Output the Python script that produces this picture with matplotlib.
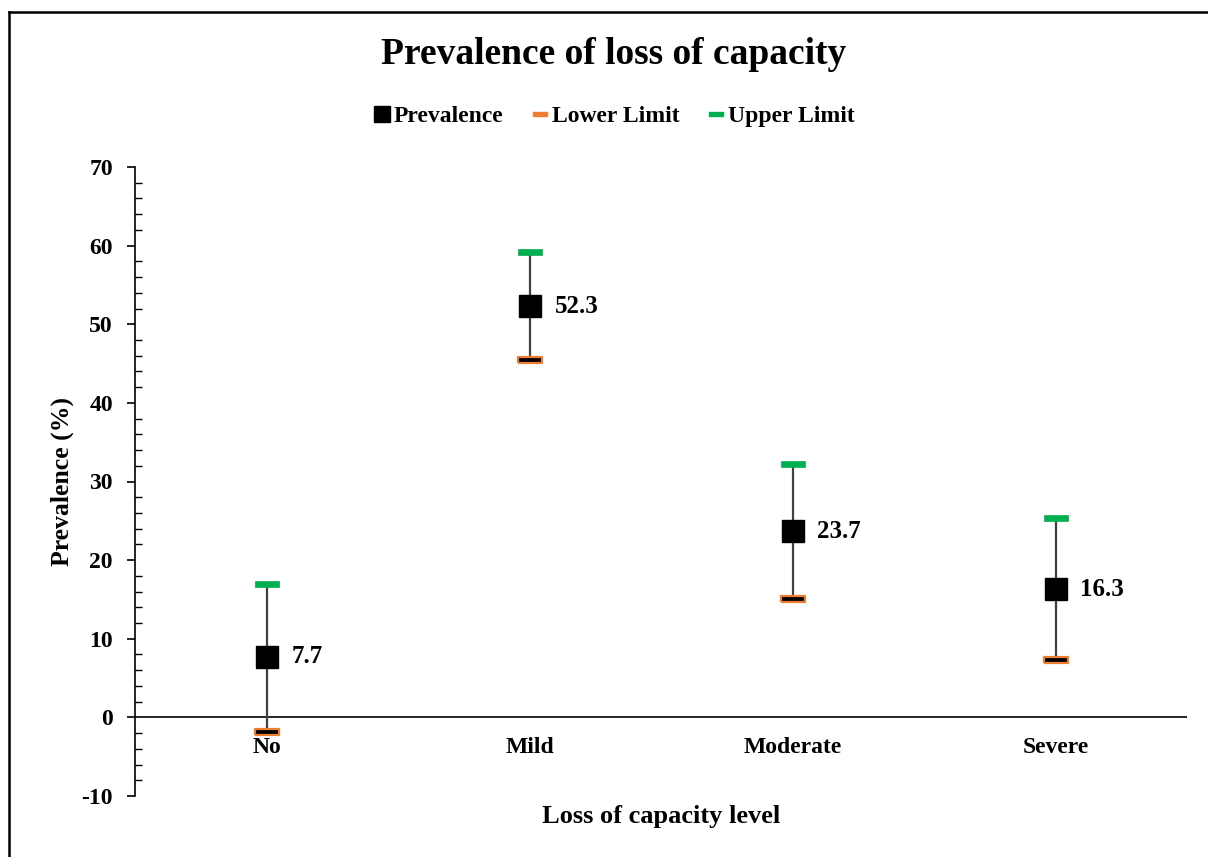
import matplotlib
matplotlib.use("Agg")
import matplotlib.pyplot as plt
from matplotlib.lines import Line2D
from matplotlib.ticker import MultipleLocator

categories = ["No", "Mild", "Moderate", "Severe"]
prevalence = [7.7, 52.3, 23.7, 16.3]
lower_limit = [-1.8, 45.5, 15.0, 7.3]
upper_limit = [17.0, 59.2, 32.2, 25.3]

plt.rcParams['font.family'] = ['Liberation Serif', 'DejaVu Serif']
plt.rcParams['font.weight'] = 'bold'
plt.rcParams['axes.unicode_minus'] = False

W, H = 1208, 857
fig = plt.figure(figsize=(W / 100, H / 100), dpi=100)
ax = fig.add_axes([135 / W, 1 - 796 / H, (1187 - 135) / W, (796 - 167) / H])

x = list(range(1, len(categories) + 1))
ax.set_xlim(0.5, len(categories) + 0.5)
ax.set_ylim(-10, 70)

# error bars
ax.vlines(x, lower_limit, upper_limit, color='#404040', lw=1.6, zorder=2)

rect = [(-1, -0.22), (1, -0.22), (1, 0.22), (-1, 0.22), (-1, -0.22)]
ax.plot(x, upper_limit, linestyle='none', marker=rect, markersize=17,
        markerfacecolor='#00B050', markeredgecolor='#00B050', markeredgewidth=0.5,
        zorder=4, label='Upper Limit')
ax.plot(x, lower_limit, linestyle='none', marker=rect, markersize=17,
        markerfacecolor='black', markeredgecolor='#ED7D31', markeredgewidth=1.6,
        zorder=4, label='Lower Limit')
ax.plot(x, prevalence, linestyle='none', marker='s', markersize=16.5,
        color='black', zorder=5, label='Prevalence')

for xi, v in zip(x, prevalence):
    ax.annotate(f"{v:.1f}", (xi, v), xytext=(18, 0), textcoords='offset points',
                ha='left', va='center', fontsize=18, fontweight='bold')

# zero line
ax.axhline(0, color='black', lw=1.2, zorder=1)

for s in ['top', 'right', 'bottom']:
    ax.spines[s].set_visible(False)
ax.spines['left'].set_linewidth(1.2)

ax.set_xticks([])
for xi, c in zip(x, categories):
    ax.text(xi, -2.5, c, ha='center', va='top', fontsize=17, fontweight='bold')

ax.yaxis.set_major_locator(MultipleLocator(10))
ax.yaxis.set_minor_locator(MultipleLocator(2))
ax.tick_params(axis='y', which='major', direction='out', length=6, width=1.2,
               labelsize=17, pad=10)
ax.tick_params(axis='y', which='minor', direction='in', length=5, width=1.0)
for lab in ax.get_yticklabels():
    lab.set_fontweight('bold')

fig.text(62 / W, 1 - 482 / H, "Prevalence (%)", rotation=90, ha='center', va='center',
         fontsize=18.5, fontweight='bold')
fig.text(661 / W, 1 - 817 / H, "Loss of capacity level", ha='center', va='center',
         fontsize=19, fontweight='bold')

fig.text(614 / W, 1 - 55 / H, "Prevalence of loss of capacity", ha='center', va='center',
         fontsize=27, fontweight='bold')

handles = [
    Line2D([], [], linestyle='none', marker='s', markersize=12, color='black'),
    Line2D([], [], linestyle='none', marker=rect, markersize=10,
           markerfacecolor='#ED7D31', markeredgecolor='#ED7D31'),
    Line2D([], [], linestyle='none', marker=rect, markersize=10,
           markerfacecolor='#00B050', markeredgecolor='#00B050'),
]
fig.legend(handles, ["Prevalence", "Lower Limit", "Upper Limit"],
           loc='center', bbox_to_anchor=(614 / W, 1 - 116 / H), ncol=3,
           frameon=False, prop={'weight': 'bold', 'size': 17},
           handlelength=0.7, handletextpad=0.15, columnspacing=1.2)

# figure border (left and top)
fig.add_artist(Line2D([9 / W, 9 / W], [0, 1 - 12 / H], transform=fig.transFigure,
                      color='black', lw=1.8))
fig.add_artist(Line2D([9 / W, 1], [1 - 12 / H, 1 - 12 / H], transform=fig.transFigure,
                      color='black', lw=1.8))

fig.savefig("out.png", dpi=100)
